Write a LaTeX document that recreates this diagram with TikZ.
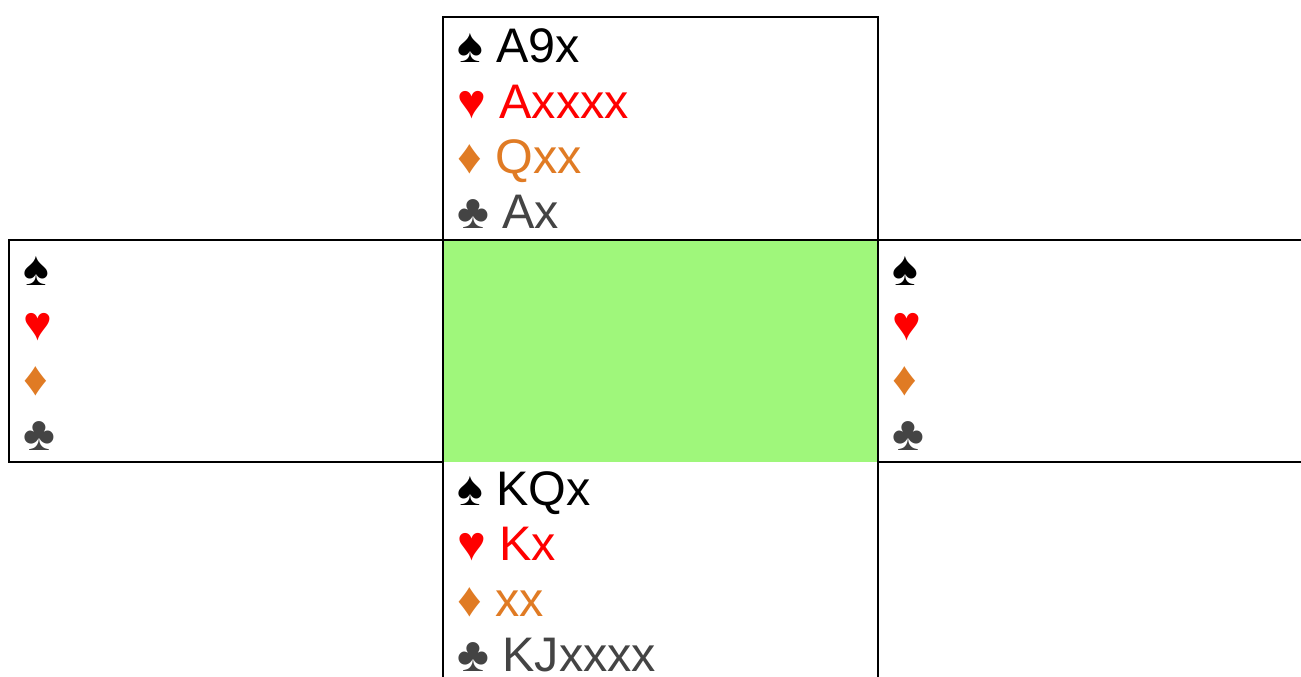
\documentclass[tikz,border=0pt]{standalone}
\usepackage{fontspec}
\setmainfont{Liberation Sans}
\definecolor{tablegreen}{HTML}{9FF77B}
\definecolor{diamondc}{HTML}{E07B24}
\definecolor{clubc}{HTML}{444444}
\begin{document}
\begin{tikzpicture}[x=1pt,y=-1pt,
  hand/.style={anchor=base west, inner sep=0pt, font=\fontsize{48.5}{55}\selectfont},
  spc/.style={hand, text=black},
  hec/.style={hand, text=red},
  dic/.style={hand, text=diamondc},
  clc/.style={hand, text=clubc},
  frame/.style={line width=2.4pt}]
\useasboundingbox (0,0) rectangle (1301,677);
% table
\fill[tablegreen] (443,240) rectangle (878,462);
% frames
\draw[frame] (443,17) rectangle (878,240);
\draw[frame] (9,240) rectangle (443,462);
\draw[frame] (878,240) -- (1302,240);
\draw[frame] (878,462) -- (1302,462);
\draw[frame] (878,240) -- (878,462);
\draw[frame] (443,462) -- (443,678);
\draw[frame] (878,462) -- (878,678);
% North
\node[spc] (ns) at (457,63) {♠ A9x};
\node[hec] (nh) at (457,118) {♥ Axxxx};
\node[dic] (nd) at (457,173) {♦ Qxx};
\node[clc] (nc) at (457,228) {♣ Ax};
% West
\node[spc] (ws) at (23,285) {♠};
\node[hec] (wh) at (23,340) {♥};
\node[dic] (wd) at (23,395) {♦};
\node[clc] (wc) at (23,450) {♣};
% East
\node[spc] (es) at (892,285) {♠};
\node[hec] (eh) at (892,340) {♥};
\node[dic] (ed) at (892,395) {♦};
\node[clc] (ec) at (892,450) {♣};
% South
\node[spc] (ss) at (457,505) {♠ KQx};
\node[hec] (sh) at (457,560) {♥ Kx};
\node[dic] (sd) at (457,616) {♦ xx};
\node[clc] (sc) at (457,671) {♣ KJxxxx};
\end{tikzpicture}
\end{document}
